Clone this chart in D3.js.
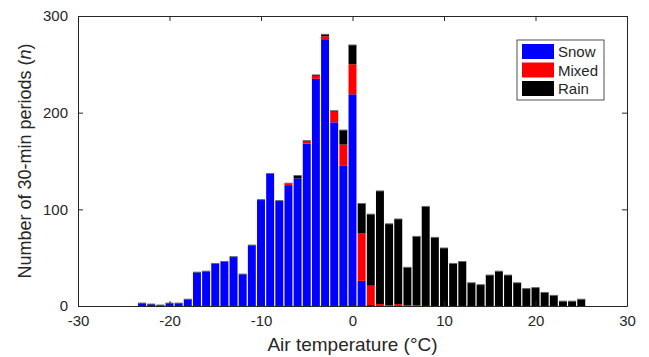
<!DOCTYPE html>
<html>
<head>
<meta charset="utf-8">
<script src="https://cdn.jsdelivr.net/npm/d3@7"></script>
<style>
  body { margin: 0; background: #fff; }
  text { font-family: "Liberation Sans", Arial, sans-serif; fill: #262626; }
</style>
</head>
<body>
<div id="chart"></div>
<script>
// bin centres (deg C) and counts per precipitation phase
let temps = d3.range(-23, 26);
let snow  = [3, 2, 1, 3, 3, 7, 35, 36, 44, 46, 51, 33, 63, 110, 137, 109, 125, 132, 168, 235, 276, 190, 145, 219,
             26, 1, 0, 0, 0, 0, 0, 0, 0, 0, 0, 0, 0, 0, 0, 0, 0, 0, 0, 0, 0, 0, 0, 0, 0];
let mixed = [0, 0, 0, 0, 0, 0, 0, 0, 0, 0, 0, 0, 0, 0, 0, 0, 2, 0, 2, 3, 3, 11, 22, 31,
             49, 20, 2, 1, 2, 1, 1, 0, 0, 0, 0, 0, 0, 0, 0, 0, 0, 0, 0, 0, 0, 0, 0, 0, 0];
let rain  = [0, 0, 0, 0, 0, 0, 0, 0, 0, 0, 0, 0, 0, 0, 0, 0, 0, 3, 1, 1, 2, 1, 15, 20,
             31, 74, 117, 84, 88, 39, 71, 103, 71, 60, 44, 46, 24, 22, 32, 36, 32, 24, 18, 19, 14, 11, 5, 5, 7];
let phases = ["Snow", "Mixed", "Rain"];
let colors = ["#0000ff", "#ff0000", "#000000"];
let xTicks = [-30, -20, -10, 0, 10, 20, 30];
let yTicks = [0, 100, 200, 300];

let W = 649, H = 357;
let m = {left: 78, right: 22, top: 16, bottom: 51};
let w = W - m.left - m.right, h = H - m.top - m.bottom;

let svg = d3.select("#chart").append("svg")
    .attr("width", W).attr("height", H);
let g = svg.append("g").attr("transform", "translate(" + m.left + "," + m.top + ")");

let x = d3.scaleLinear().domain([-30, 30]).range([0, w]);
let y = d3.scaleLinear().domain([0, 300]).range([h, 0]);

let rows = temps.map((t, i) => ({t: t, Snow: snow[i], Mixed: mixed[i], Rain: rain[i]}));
let stacked = d3.stack().keys(phases)(rows);

let bw = x(1) - x(0);
stacked.forEach(function(layer, k) {
    g.append("g")
        .selectAll("rect")
        .data(layer)
        .join("rect")
        .attr("x", d => x(d.data.t) - bw / 2 + 0.6)
        .attr("width", bw - 1.2)
        .attr("y", d => y(d[1]))
        .attr("height", d => Math.max(0, y(d[0]) - y(d[1])))
        .attr("fill", colors[k]);
});
// thin grey cap on each bar, like the bar edge
g.append("g").selectAll("line")
    .data(rows.filter(d => d.Snow + d.Mixed + d.Rain > 0))
    .join("line")
    .attr("x1", d => x(d.t) - bw / 2 + 0.6)
    .attr("x2", d => x(d.t) + bw / 2 - 0.6)
    .attr("y1", d => y(d.Snow + d.Mixed + d.Rain))
    .attr("y2", d => y(d.Snow + d.Mixed + d.Rain))
    .attr("stroke", "#666").attr("stroke-width", 1);

// axes
let axisColor = "#262626";
let fmt = d => String(d);
g.append("g").attr("transform", "translate(0," + h + ")")
    .call(d3.axisBottom(x).tickValues(xTicks).tickFormat(fmt).tickSizeInner(-5).tickSizeOuter(0).tickPadding(9));
g.append("g")
    .call(d3.axisLeft(y).tickValues(yTicks).tickFormat(fmt).tickSizeInner(-5).tickSizeOuter(0).tickPadding(10));
g.append("g").call(d3.axisTop(x).tickValues(xTicks).tickSizeInner(-5).tickSizeOuter(0).tickFormat(""));
g.append("g").attr("transform", "translate(" + w + ",0)")
    .call(d3.axisRight(y).tickValues(yTicks).tickSizeInner(-5).tickSizeOuter(0).tickFormat(""));
g.selectAll(".domain, .tick line").attr("stroke", axisColor);
g.selectAll(".tick text").attr("font-size", 15).style("font-family", "Liberation Sans, Arial, sans-serif").attr("fill", axisColor);

svg.append("text")
    .attr("x", m.left + w / 2).attr("y", 351)
    .attr("text-anchor", "middle").attr("font-size", 19)
    .text("Air temperature (\u00b0C)");

let yl = svg.append("text")
    .attr("transform", "translate(31," + (m.top + h / 2) + ") rotate(-90)")
    .attr("text-anchor", "middle").attr("font-size", 18);
yl.append("tspan").text("Number of 30-min periods (");
yl.append("tspan").attr("font-style", "italic").text("n");
yl.append("tspan").text(")");

// legend
let lg = svg.append("g").attr("transform", "translate(517,40)");
lg.append("rect").attr("width", 87).attr("height", 60)
    .attr("fill", "#fff").attr("stroke", axisColor).attr("stroke-width", 0.8);
phases.forEach(function(p, i) {
    lg.append("rect").attr("x", 5).attr("y", 4 + i * 18.5).attr("width", 32).attr("height", 15)
        .attr("fill", colors[i]);
    lg.append("text").attr("x", 41).attr("y", 17 + i * 18.5).attr("font-size", 15).text(p);
});
</script>
</body>
</html>
